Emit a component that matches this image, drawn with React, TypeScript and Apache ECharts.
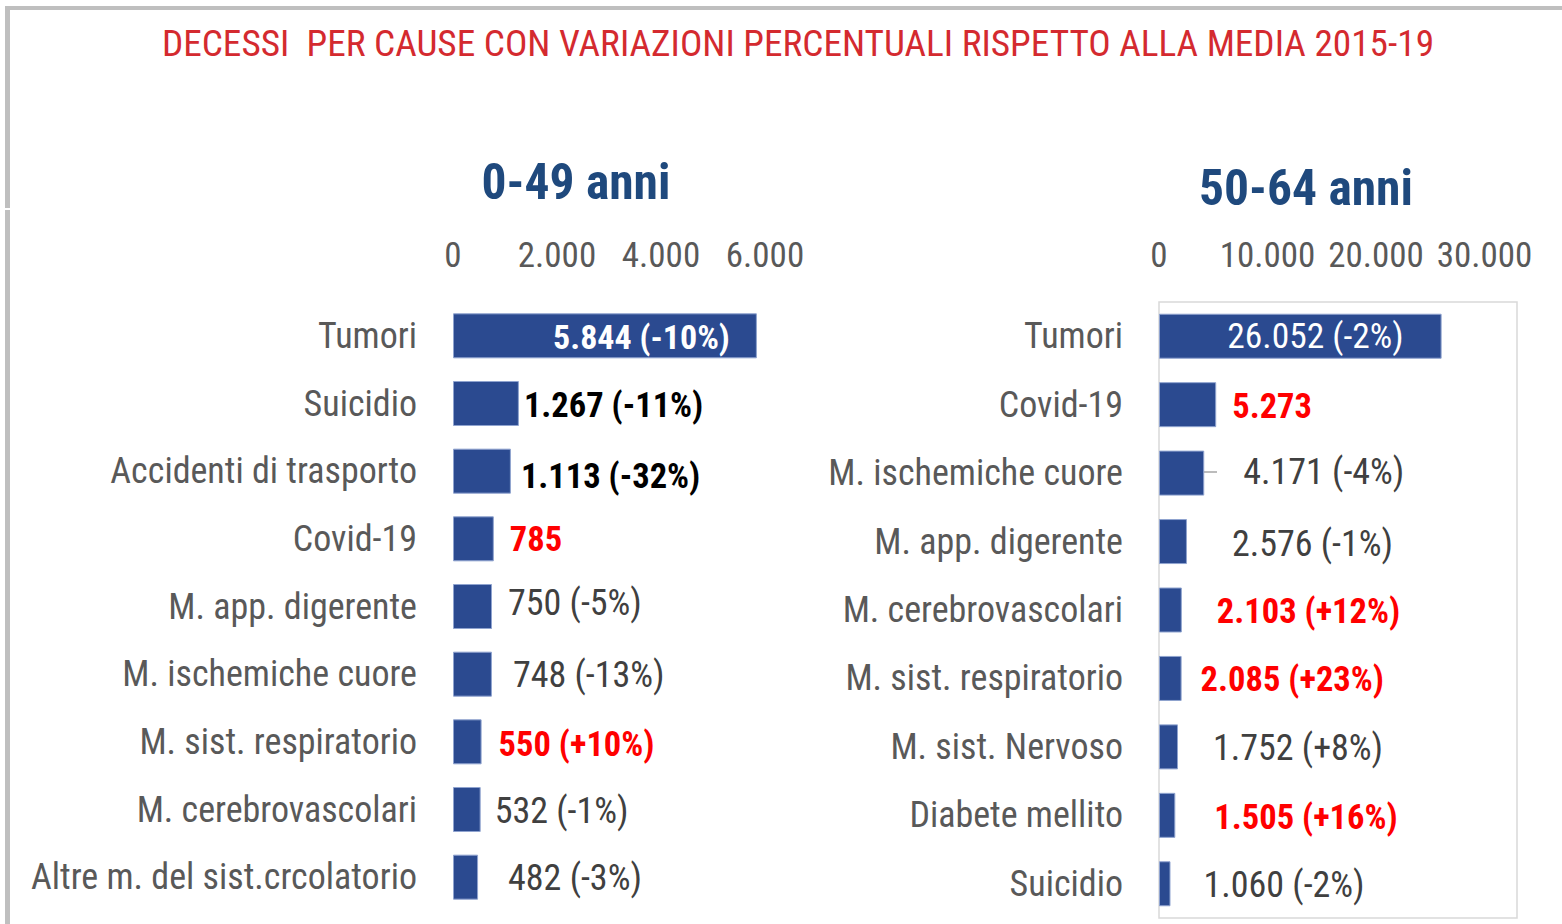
import React, { useEffect, useRef } from "react";
import * as echarts from "echarts";

const TITLE = "DECESSI  PER CAUSE CON VARIAZIONI PERCENTUALI RISPETTO ALLA MEDIA 2015-19";

const leftTitle = "0-49 anni";
const leftCategories = [
  "Tumori", "Suicidio", "Accidenti di trasporto", "Covid-19", "M. app. digerente",
  "M. ischemiche cuore", "M. sist. respiratorio", "M. cerebrovascolari", "Altre m. del sist.crcolatorio",
];
const leftValues = [5844, 1267, 1113, 785, 750, 748, 550, 532, 482];
const leftPct: (number | null)[] = [-10, -11, -32, null, -5, -13, 10, -1, -3];
const leftTicks = [0, 2000, 4000, 6000];

const rightTitle = "50-64 anni";
const rightCategories = [
  "Tumori", "Covid-19", "M. ischemiche cuore", "M. app. digerente", "M. cerebrovascolari",
  "M. sist. respiratorio", "M. sist. Nervoso", "Diabete mellito", "Suicidio",
];
const rightValues = [26052, 5273, 4171, 2576, 2103, 2085, 1752, 1505, 1060];
const rightPct: (number | null)[] = [-2, null, -4, -1, 12, 23, 8, 16, -2];
const rightTicks = [0, 10000, 20000, 30000];

const FONT = "'Roboto Condensed', 'DejaVu Sans Condensed', sans-serif";
const GRAY = "#595959";
const RED = "#FF0000";
const BAR = "#2B4A90";

function fmt(v: number) {
  return String(v).replace(/\B(?=(\d{3})+(?!\d))/g, ".");
}
function labelText(v: number, p: number | null) {
  if (p === null) return fmt(v);
  return `${fmt(v)} (${p > 0 ? "+" : ""}${p}%)`;
}

// label styles: kind, distance, dy
const leftStyle: [string, number, number][] = [
  ["inside", 27, 1], ["black", 5, 1], ["black", 10, 5], ["red", 16, 0], ["gray", 16, -4],
  ["gray", 21, 1], ["red", 17, 2], ["gray", 14, 1], ["gray", 30, 1],
];
const rightStyle: [string, number, number][] = [
  ["insideLight", 38, 0], ["red", 16, 1], ["gray", 39, -1], ["gray", 45, 2], ["red", 35, 1],
  ["red", 19, 1], ["gray", 35, 1], ["red", 39, 2], ["gray", 33, 1],
];

function buildData(values: number[], pct: (number | null)[], style: [string, number, number][]) {
  return values.map((v, i) => {
    const [kind, dist, dy] = style[i];
    const base: any = {
      show: true,
      formatter: labelText(v, pct[i]),
      fontFamily: FONT,
      fontSize: 36,
      distance: dist,
      offset: [0, dy],
    };
    if (kind === "inside") {
      Object.assign(base, { position: "insideRight", color: "#fff", fontWeight: "bold", fontSize: 34 });
    } else if (kind === "insideLight") {
      Object.assign(base, { position: "insideRight", color: "#fff", fontWeight: "normal", fontSize: 35.5 });
    } else if (kind === "red") {
      Object.assign(base, { position: "right", color: RED, fontWeight: "bold", fontSize: 34.5 });
    } else if (kind === "black") {
      Object.assign(base, { position: "right", color: "#000", fontWeight: "bold", fontSize: 34.5 });
    } else {
      Object.assign(base, { position: "right", color: "#404040", fontWeight: "normal", fontSize: 36 });
    }
    return { value: v, label: base };
  });
}

export default function App() {
  const ref = useRef<HTMLDivElement>(null);
  useEffect(() => {
    const chart = echarts.init(ref.current!, null, { renderer: "svg" });
    const catAxis = (data: string[], gridIndex: number) => ({
      type: "category",
      gridIndex,
      data,
      inverse: true,
      axisLine: { show: false },
      axisTick: { show: false },
      axisLabel: { color: GRAY, fontFamily: FONT, fontSize: 36, margin: 36 },
    });
    const valAxis = (gridIndex: number, max: number, interval: number, showMax: boolean) => ({
      type: "value",
      gridIndex,
      position: "top",
      min: 0,
      max,
      interval,
      splitLine: { show: false },
      axisLine: { show: false },
      axisTick: { show: false },
      axisLabel: {
        color: GRAY,
        fontFamily: FONT,
        fontSize: 35,
        margin: 29,
        showMaxLabel: showMax,
        formatter: (v: number) => fmt(v),
      },
    });
    chart.setOption({
      animation: false,
      backgroundColor: "#fff",
      title: [
        {
          text: TITLE,
          left: 793,
          top: 19,
          textAlign: "center",
          textStyle: { color: "#D42A2F", fontFamily: FONT, fontSize: 37.3, fontWeight: "normal" },
        },
        {
          text: leftTitle,
          left: 571,
          top: 152,
          textAlign: "center",
          textStyle: { color: "#1F497D", fontFamily: FONT, fontSize: 49.5, fontWeight: "bold" },
        },
        {
          text: rightTitle,
          left: 1301,
          top: 158,
          textAlign: "center",
          textStyle: { color: "#1F497D", fontFamily: FONT, fontSize: 49.5, fontWeight: "bold" },
        },
      ],
      grid: [
        { left: 453, top: 302, width: 312, height: 609, outerBoundsMode: "none", containLabel: false },
        {
          left: 1159, top: 302, width: 358, height: 616, outerBoundsMode: "none", containLabel: false,
          show: true, borderColor: "#D9D9D9", borderWidth: 1.5,
        },
      ],
      xAxis: [
        valAxis(0, leftTicks[leftTicks.length - 1], leftTicks[1] - leftTicks[0], true),
        valAxis(1, 33000, rightTicks[1] - rightTicks[0], false),
      ],
      yAxis: [catAxis(leftCategories, 0), catAxis(rightCategories, 1)],
      series: [
        {
          type: "bar",
          xAxisIndex: 0,
          yAxisIndex: 0,
          barWidth: 45,
          itemStyle: { color: BAR, borderColor: "#8FA3CF", borderWidth: 1 },
          data: buildData(leftValues, leftPct, leftStyle),
        },
        {
          type: "bar",
          xAxisIndex: 1,
          yAxisIndex: 1,
          barWidth: 45,
          itemStyle: { color: BAR, borderColor: "#8FA3CF", borderWidth: 1 },
          data: buildData(rightValues, rightPct, rightStyle),
        },
      ],
      graphic: [
        { type: "rect", shape: { x: 5, y: 6, width: 1560, height: 4 }, style: { fill: "#BFBFBF" } },
        { type: "rect", shape: { x: 5, y: 6, width: 5, height: 202 }, style: { fill: "#BFBFBF" } },
        { type: "rect", shape: { x: 5, y: 210, width: 5, height: 720 }, style: { fill: "#BFBFBF" } },
        { type: "line", shape: { x1: 1204, y1: 472, x2: 1217, y2: 472 }, style: { stroke: "#A6A6A6", lineWidth: 1.5 } },
      ],
    });
    return () => chart.dispose();
  }, []);
  return (
    <div
      ref={ref}
      style={{ position: "absolute", left: 0, top: 0, width: 1562, height: 924 }}
    />
  );
}
